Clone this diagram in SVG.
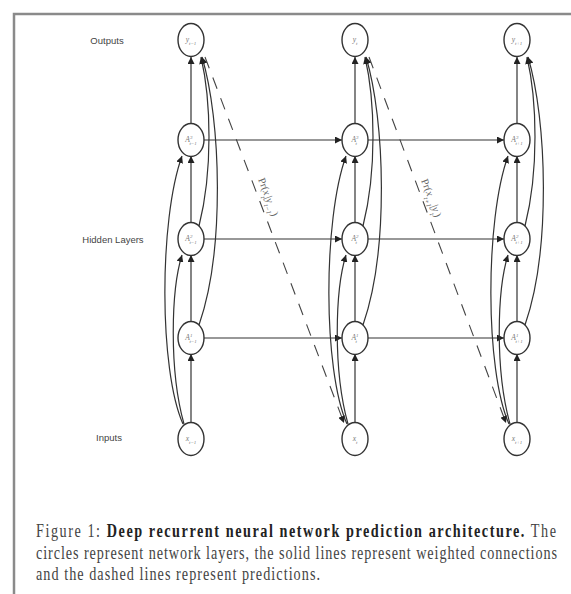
<svg xmlns="http://www.w3.org/2000/svg" width="571" height="594" viewBox="0 0 571 594">
<style>
.node ellipse{fill:#fff;stroke:#333;stroke-width:1.4}
.nl{font-family:"Liberation Serif",serif;font-style:italic;font-size:7.5px;fill:#777;text-anchor:middle}
.sub{font-size:5px;font-style:italic}
.row{font-family:"Liberation Sans",Arial,sans-serif;font-size:9.5px;fill:#444;text-anchor:middle}
.c{fill:none;stroke:#333;stroke-width:1.2}
.d{fill:none;stroke:#444;stroke-width:1.1;stroke-dasharray:12 10}
.pl{font-family:"Liberation Serif",serif;font-size:10.5px;fill:#666;text-anchor:middle}
.pl .s{font-size:7px;font-style:italic}
.cap{font-family:"Liberation Serif",serif;font-size:14.2px;fill:#444}
.capb{font-weight:bold;fill:#222}
</style>
<defs>
<marker id="ah" viewBox="0 0 10 10" refX="10" refY="5" markerWidth="7" markerHeight="7" orient="auto" markerUnits="userSpaceOnUse"><path d="M0,0 L10,5 L0,10 z" fill="#222"/></marker>
</defs>
<rect width="571" height="594" fill="#fff"/>
<path d="M14,594 L14,14 L571,14" fill="none" stroke="#8a8a8a" stroke-width="2.5"/>
<g id="row-labels">
<text class="row" x="107" y="44">Outputs</text>
<text class="row" x="113" y="243">Hidden Layers</text>
<text class="row" x="109" y="441">Inputs</text>
</g>
<g id="connectors" marker-end="url(#ah)">
<g class="c">
<path d="M191,423 V354"/><path d="M191,322 V255"/><path d="M191,223 V156"/><path d="M191,124 V57"/>
<path d="M355,423 V354"/><path d="M355,322 V255"/><path d="M355,223 V156"/><path d="M355,124 V57"/>
<path d="M517,423 V354"/><path d="M517,322 V255"/><path d="M517,223 V156"/><path d="M517,124 V57"/>
<path d="M204,140 H342"/><path d="M204,239 H342"/><path d="M204,338 H342"/>
<path d="M368,140 H504"/><path d="M368,239 H504"/><path d="M368,338 H504"/>
<path d="M183,424 C159,370 159,220 182,156"/>
<path d="M184,424 C169,370 171,290 182,255"/>
<path d="M199,226 C213,170 211,100 201,57"/>
<path d="M199,325 C225,250 221,120 202,57"/>
<path d="M347,424 C323,370 323,220 346,156"/>
<path d="M348,424 C333,370 335,290 346,255"/>
<path d="M363,226 C377,170 375,100 365,57"/>
<path d="M363,325 C389,250 385,120 366,57"/>
<path d="M509,424 C485,370 485,220 508,156"/>
<path d="M510,424 C495,370 497,290 508,255"/>
<path d="M525,226 C539,170 537,100 527,57"/>
<path d="M525,325 C551,250 547,120 528,57"/>
</g>
<path class="d" d="M205,57 L344,423"/>
<path class="d" d="M369,57 L506,423"/>
</g>
<g id="pred-labels">
<text class="pl" transform="translate(268,197) rotate(69.2)" dy="3">Pr(<tspan font-style="italic">x</tspan><tspan class="s" baseline-shift="sub">t</tspan>|<tspan font-style="italic">y</tspan><tspan class="s" baseline-shift="sub">t−1</tspan>)</text>
<text class="pl" transform="translate(431,198) rotate(69.2)" dy="3">Pr(<tspan font-style="italic">x</tspan><tspan class="s" baseline-shift="sub">t+1</tspan>|<tspan font-style="italic">y</tspan><tspan class="s" baseline-shift="sub">t</tspan>)</text>
</g>
<g id="y_tm1" class="node"><ellipse cx="191" cy="40" rx="13" ry="16.5"/><text class="nl" x="191" y="42">y<tspan class="sub" baseline-shift="sub">t−1</tspan></text></g>
<g id="y_t" class="node"><ellipse cx="355" cy="40" rx="13" ry="16.5"/><text class="nl" x="355" y="42">y<tspan class="sub" baseline-shift="sub">t</tspan></text></g>
<g id="y_tp1" class="node"><ellipse cx="517" cy="40" rx="13" ry="16.5"/><text class="nl" x="517" y="42">y<tspan class="sub" baseline-shift="sub">t+1</tspan></text></g>
<g id="A3_tm1" class="node"><ellipse cx="191" cy="140" rx="13" ry="16.5"/><text class="nl" x="191" y="142">A<tspan class="sub" dy="-3">3</tspan><tspan class="sub" dx="-3" dy="6">t−1</tspan></text></g>
<g id="A3_t" class="node"><ellipse cx="355" cy="140" rx="13" ry="16.5"/><text class="nl" x="355" y="142">A<tspan class="sub" dy="-3">3</tspan><tspan class="sub" dx="-3" dy="6">t</tspan></text></g>
<g id="A3_tp1" class="node"><ellipse cx="517" cy="140" rx="13" ry="16.5"/><text class="nl" x="517" y="142">A<tspan class="sub" dy="-3">3</tspan><tspan class="sub" dx="-3" dy="6">t+1</tspan></text></g>
<g id="A2_tm1" class="node"><ellipse cx="191" cy="239" rx="13" ry="16.5"/><text class="nl" x="191" y="241">A<tspan class="sub" dy="-3">2</tspan><tspan class="sub" dx="-3" dy="6">t−1</tspan></text></g>
<g id="A2_t" class="node"><ellipse cx="355" cy="239" rx="13" ry="16.5"/><text class="nl" x="355" y="241">A<tspan class="sub" dy="-3">2</tspan><tspan class="sub" dx="-3" dy="6">t</tspan></text></g>
<g id="A2_tp1" class="node"><ellipse cx="517" cy="239" rx="13" ry="16.5"/><text class="nl" x="517" y="241">A<tspan class="sub" dy="-3">2</tspan><tspan class="sub" dx="-3" dy="6">t+1</tspan></text></g>
<g id="A1_tm1" class="node"><ellipse cx="191" cy="338" rx="13" ry="16.5"/><text class="nl" x="191" y="340">A<tspan class="sub" dy="-3">1</tspan><tspan class="sub" dx="-3" dy="6">t−1</tspan></text></g>
<g id="A1_t" class="node"><ellipse cx="355" cy="338" rx="13" ry="16.5"/><text class="nl" x="355" y="340">A<tspan class="sub" dy="-3">1</tspan><tspan class="sub" dx="-3" dy="6">t</tspan></text></g>
<g id="A1_tp1" class="node"><ellipse cx="517" cy="338" rx="13" ry="16.5"/><text class="nl" x="517" y="340">A<tspan class="sub" dy="-3">1</tspan><tspan class="sub" dx="-3" dy="6">t+1</tspan></text></g>
<g id="x_tm1" class="node"><ellipse cx="191" cy="439" rx="13" ry="16.5"/><text class="nl" x="191" y="441">x<tspan class="sub" baseline-shift="sub">t−1</tspan></text></g>
<g id="x_t" class="node"><ellipse cx="355" cy="439" rx="13" ry="16.5"/><text class="nl" x="355" y="441">x<tspan class="sub" baseline-shift="sub">t</tspan></text></g>
<g id="x_tp1" class="node"><ellipse cx="517" cy="439" rx="13" ry="16.5"/><text class="nl" x="517" y="441">x<tspan class="sub" baseline-shift="sub">t+1</tspan></text></g>
<g id="caption" transform="translate(0,537) scale(1,1.27)">
<text class="cap" x="36" y="0" textLength="520" lengthAdjust="spacing">Figure 1: <tspan class="capb">Deep recurrent neural network prediction architecture.</tspan> The</text>
<text class="cap" x="36" y="17" textLength="521" lengthAdjust="spacing">circles represent network layers, the solid lines represent weighted connections</text>
<text class="cap" x="36" y="34" textLength="284" lengthAdjust="spacing">and the dashed lines represent predictions.</text>
</g>
</svg>
